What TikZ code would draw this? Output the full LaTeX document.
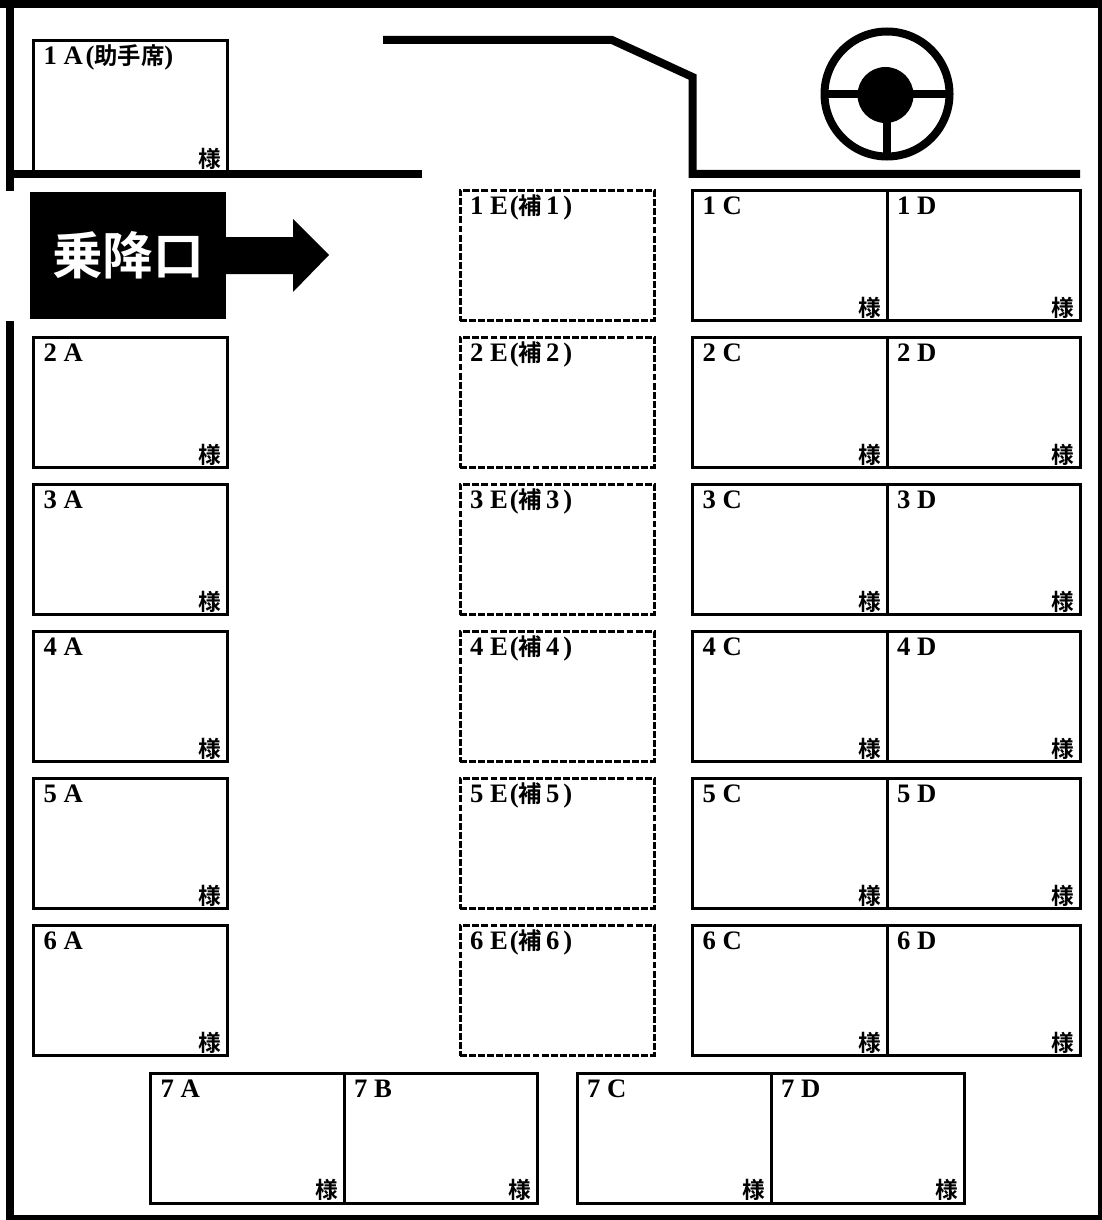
\documentclass[tikz,border=0pt]{standalone}
\usepackage{fontspec}
\setmainfont{Liberation Serif}
\newfontfamily\cjk{Noto Sans CJK JP}[BoldFont={Noto Sans CJK JP Bold}]
\tikzset{
  seatbox/.style={draw=black,line width=2.25pt,rectangle,inner sep=0pt,outer sep=0pt},
  spare/.style={seatbox,dash pattern=on 5.2pt off 1.6pt},
  seatlabel/.style={anchor=base west,inner sep=0pt,font=\bfseries\fontsize{20}{22}\selectfont},
  sama/.style={anchor=south east,inner sep=0pt,font=\cjk\bfseries\fontsize{17}{18}\selectfont},
  wall/.style={draw=black,line width=6pt,line cap=butt,line join=miter},
}
\newcommand{\kanji}[1]{{\cjk\bfseries\fontsize{17.5}{18}\selectfont #1}}
\newcommand{\seatat}[7]{%
  \path (#2,#3) coordinate (#1nw) (#4,#5) coordinate (#1se);
  \node[#6,minimum width={(#4-#2)*0.75pt},minimum height={(#5-#3)*0.75pt},anchor=north west] (#1) at (#1nw) {};
  \node[seatlabel] (#1l) at ([xshift=7.4pt,yshift=-18pt]#1.north west) {#7};
}
\newcommand{\samaat}[1]{\node[sama] (#1s) at ([xshift=-4.2pt,yshift=1.5pt]#1.south east) {様};}
\begin{document}
\begin{tikzpicture}[x=0.75pt,y=-0.75pt]
\useasboundingbox (0,0) rectangle (1102,1220);
\fill[white] (0,0) rectangle (1102,1220);
% first-row passenger seat (sits behind the wall line)
\seatat{a1}{33.5}{40.5}{227.5}{172}{seatbox}{1 A\hspace{2pt}(\kanji{助手席})}
\samaat{a1}
% left seats
\foreach \n/\t in {2/337.5,3/484.5,4/631.5,5/778.5,6/925.5}{
  \pgfmathsetmacro{\b}{\t+130}
  \seatat{a\n}{33.5}{\t}{227.5}{\b}{seatbox}{\n\ A}
  \samaat{a\n}
}
% centre spare seats and right double seats
\foreach \n/\t in {1/190.5,2/337.5,3/484.5,4/631.5,5/778.5,6/925.5}{
  \pgfmathsetmacro{\b}{\t+130}
  \seatat{e\n}{460}{\t}{654}{\b}{spare}{\n\ E\hspace{1.5pt}(\kanji{補}\hspace{3pt}\n\hspace{3pt})}
  \seatat{c\n}{692.5}{\t}{887}{\b}{seatbox}{\n\ C}
  \samaat{c\n}
  \seatat{d\n}{887}{\t}{1080.5}{\b}{seatbox}{\n\ D}
  \samaat{d\n}
}
% back row
\seatat{s7a}{150.5}{1073.5}{344}{1203}{seatbox}{7 A}\samaat{s7a}
\seatat{s7b}{344}{1073.5}{537.5}{1203}{seatbox}{7 B}\samaat{s7b}
\seatat{s7c}{577}{1073.5}{771}{1203}{seatbox}{7 C}\samaat{s7c}
\seatat{s7d}{771}{1073.5}{964}{1203}{seatbox}{7 D}\samaat{s7d}
% body outline
\fill (0,0) rectangle (1102,8);
\fill (1098,0) rectangle (1102,1220);
\fill (6,1215) rectangle (1102,1220);
\fill (6,0) rectangle (14,191);
\fill (6,321) rectangle (14,1220);
\draw[wall] (14,174) -- (422,174);
\draw[wall] (383,40) -- (612,40) -- (692.5,77) -- (692.5,174) -- (1080,174);
% steering wheel
\draw[line width=6pt] (887,94) circle [radius=62.5];
\fill (885.5,95) circle [radius=28];
\draw[line width=6.6pt] (825,94) -- (949,94);
\draw[line width=6.2pt] (887,95) -- (887,157);
% boarding door sign
\fill (226,237) -- (293,237) -- (293,219) -- (329,255) -- (293,292) -- (293,274) -- (226,274) -- cycle;
\node[fill=black,inner sep=0pt,outer sep=0pt,minimum width=147pt,minimum height=95.25pt,anchor=north west,
  text=white,font=\cjk\bfseries\fontsize{38}{40}\selectfont] (door) at (30,192) {乗降口};
\end{tikzpicture}
\end{document}
